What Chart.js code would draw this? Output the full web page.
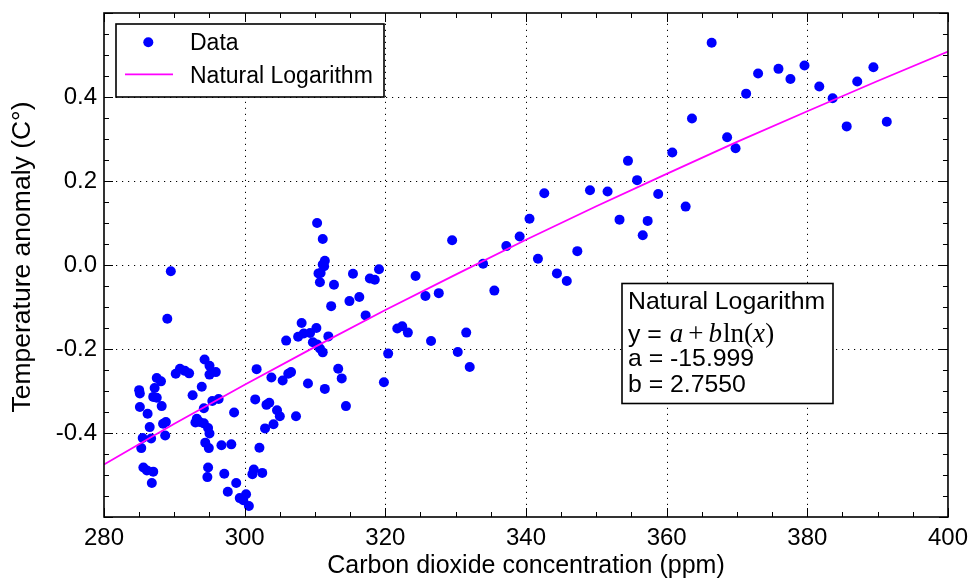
<!DOCTYPE html>
<html><head><meta charset="utf-8">
<style>html,body{margin:0;padding:0;background:#fff;}#wrap{width:975px;height:579px;}</style>
<script src="https://cdn.jsdelivr.net/npm/chart.js@4.4.0/dist/chart.umd.min.js"></script>
</head><body><div id="wrap"><canvas id="c" width="975" height="579"></canvas></div>
<script>
// CO2 concentration (ppm) of each data point
const co2 = [289.5,289.0,294.3,295.0,295.9,295.0,290.8,290.2,291.5,292.1,287.5,288.1,287.2,285.0,285.1,287.0,287.5,285.1,288.2,286.2,
293.9,292.6,295.4,296.3,294.2,298.5,288.8,288.4,293.2,293.6,293.0,294.2,294.8,295.0,294.4,294.9,286.5,285.5,286.7,288.7,
285.3,296.7,298.1,285.6,286.1,287.0,286.8,294.8,294.7,297.1,298.8,297.6,299.3,
310.3,311.1,311.4,311.1,311.3,310.5,310.8,310.7,312.7,315.4,317.8,318.5,319.1,316.3,314.9,312.3,317.2,308.1,310.2,307.6,
308.4,309.3,311.9,305.9,309.7,310.3,310.7,311.1,301.7,313.3,313.8,306.6,306.2,303.8,305.4,309.0,311.4,301.5,303.1,303.5,
304.6,305.0,307.3,314.4,304.1,302.9,302.1,301.3,301.1,302.5,300.2,299.8,300.6,
342.6,340.5,339.1,337.2,329.5,333.9,341.7,344.4,345.8,324.3,325.7,327.6,335.5,321.7,322.4,323.2,326.5,331.5,330.3,332.0,
320.4,319.8,
366.4,373.0,371.3,363.6,368.6,369.8,360.8,354.5,355.8,349.1,351.6,358.8,362.7,353.3,357.3,356.6,347.3,
375.9,377.6,379.6,381.7,383.6,387.1,389.4,385.6,391.3];
// Temperature anomaly (C) of each data point
const anomaly = [-0.015,-0.128,-0.225,-0.240,-0.255,-0.261,-0.247,-0.259,-0.252,-0.258,-0.269,-0.277,-0.293,-0.298,-0.306,-0.314,-0.316,-0.338,-0.336,-0.354,
-0.290,-0.310,-0.324,-0.319,-0.341,-0.351,-0.374,-0.378,-0.366,-0.374,-0.375,-0.377,-0.388,-0.401,-0.423,-0.436,-0.386,-0.412,-0.413,-0.406,
-0.436,-0.429,-0.427,-0.482,-0.489,-0.492,-0.519,-0.482,-0.505,-0.497,-0.519,-0.540,-0.555,
0.100,0.062,0.010,0.001,-0.003,-0.020,-0.019,-0.041,-0.047,-0.021,-0.032,-0.035,-0.010,-0.076,-0.086,-0.098,-0.120,-0.138,-0.150,-0.171,
-0.163,-0.162,-0.170,-0.180,-0.184,-0.189,-0.199,-0.208,-0.248,-0.247,-0.270,-0.255,-0.259,-0.268,-0.275,-0.282,-0.295,-0.320,-0.333,-0.328,
-0.346,-0.360,-0.360,-0.336,-0.379,-0.389,-0.435,-0.487,-0.498,-0.495,-0.546,-0.560,-0.574,
0.171,0.110,0.068,0.045,0.059,0.003,0.015,-0.020,-0.038,-0.026,-0.074,-0.067,-0.061,-0.151,-0.146,-0.161,-0.181,-0.161,-0.207,-0.243,
-0.211,-0.279,
0.529,0.456,0.408,0.349,0.304,0.278,0.268,0.248,0.202,0.178,0.175,0.169,0.139,0.108,0.105,0.071,0.033,
0.467,0.443,0.475,0.425,0.397,0.437,0.471,0.330,0.341];
// Fitted natural logarithm curve, sampled values
const fitX = [280,290,300,310,320,330,340,350,360,370,380,390,400];
const fitY = [-0.475,-0.378,-0.285,-0.195,-0.107,-0.023,0.060,0.140,0.217,0.293,0.366,0.438,0.508];
// Axis ticks
const xMajor = [280,300,320,340,360,380,400];
const yMajor = [-0.6,-0.4,-0.2,0.0,0.2,0.4,0.6];
const yLabelled = [-0.4,-0.2,0.0,0.2,0.4];
// Texts
const legendLabels = ['Data','Natural Logarithm'];
const xTitle = 'Carbon dioxide concentration (ppm)';
const yTitle = 'Temperature anomaly (C°)';
const boxTitle = 'Natural Logarithm';
const coefA = '-15.999';
const coefB = '2.7550';

const SANS = '"Liberation Sans", Arial, Helvetica, sans-serif';
const SERIF = '"Liberation Serif", "Times New Roman", serif';

const decor = {
  id: 'decor',
  beforeDatasetsDraw(chart) {
    const {ctx, chartArea: a, scales: {x, y}} = chart;
    ctx.save();
    ctx.strokeStyle = '#000';
    ctx.lineWidth = 1;
    ctx.setLineDash([1.2, 4.8]);
    xMajor.forEach(v => {
      if (v <= x.min || v >= x.max) return;
      const px = Math.round(x.getPixelForValue(v)) + 0.5;
      ctx.beginPath(); ctx.moveTo(px, a.bottom); ctx.lineTo(px, a.top); ctx.stroke();
    });
    yMajor.forEach(v => {
      if (v <= y.min + 1e-9 || v >= y.max - 1e-9) return;
      const py = Math.round(y.getPixelForValue(v)) + 0.5;
      ctx.beginPath(); ctx.moveTo(a.left, py); ctx.lineTo(a.right, py); ctx.stroke();
    });
    ctx.restore();
  },
  afterDatasetsDraw(chart) {
    const {ctx, chartArea: a, scales: {x, y}} = chart;
    ctx.save();
    ctx.strokeStyle = '#000';
    ctx.lineWidth = 1;
    const tick = (px, len, vert) => {
      ctx.beginPath();
      if (vert) {
        ctx.moveTo(px, a.bottom); ctx.lineTo(px, a.bottom - len);
        ctx.moveTo(px, a.top); ctx.lineTo(px, a.top + len);
      } else {
        ctx.moveTo(a.left, px); ctx.lineTo(a.left + len, px);
        ctx.moveTo(a.right, px); ctx.lineTo(a.right - len, px);
      }
      ctx.stroke();
    };
    for (let v = x.min; v <= x.max + 1e-9; v += 5) {
      const major = Math.abs(v % 20) < 1e-9;
      tick(Math.round(x.getPixelForValue(v)) + 0.5, major ? 9 : 5, true);
    }
    for (let i = 0; i <= 24; i++) {
      const v = -0.6 + i * 0.05;
      tick(Math.round(y.getPixelForValue(v)) + 0.5, i % 4 === 0 ? 9 : 5, false);
    }
    ctx.lineWidth = 1.6;
    ctx.strokeRect(a.left, a.top, a.right - a.left, a.bottom - a.top);

    // y axis title
    ctx.save();
    ctx.translate(23, 257);
    ctx.rotate(-Math.PI / 2);
    ctx.fillStyle = '#000';
    ctx.font = '26.5px ' + SANS;
    ctx.textAlign = 'center';
    ctx.textBaseline = 'middle';
    ctx.fillText(yTitle, 0, 0);
    ctx.restore();

    // legend box
    ctx.fillStyle = '#fff';
    ctx.fillRect(116, 24, 268, 73);
    ctx.lineWidth = 1.6;
    ctx.strokeRect(116, 24, 268, 73);
    ctx.fillStyle = '#0000ff';
    ctx.beginPath(); ctx.arc(148.3, 42.3, 5, 0, Math.PI * 2); ctx.fill();
    ctx.strokeStyle = '#ff00ff'; ctx.lineWidth = 1.8;
    ctx.beginPath(); ctx.moveTo(125, 74.3); ctx.lineTo(173, 74.3); ctx.stroke();
    ctx.fillStyle = '#000';
    ctx.font = '23px ' + SANS;
    ctx.textBaseline = 'alphabetic';
    ctx.textAlign = 'left';
    ctx.fillText(legendLabels[0], 190, 50);
    ctx.fillText(legendLabels[1], 190, 82.5);

    // annotation box
    ctx.fillStyle = '#fff';
    ctx.fillRect(622, 283.5, 211, 120);
    ctx.strokeStyle = '#000'; ctx.lineWidth = 1.6;
    ctx.strokeRect(622, 283.5, 211, 120);
    ctx.fillStyle = '#000';
    ctx.font = '24.8px ' + SANS;
    ctx.fillText(boxTitle, 628, 308.5);
    let cx = 628;
    const bl = 341.5;
    ctx.fillText('y = ', cx, bl); cx += ctx.measureText('y = ').width + 1;
    const piece = (t, italic, gapAfter) => {
      ctx.font = (italic ? 'italic ' : '') + '27px ' + SERIF;
      ctx.fillText(t, cx, bl);
      cx += ctx.measureText(t).width + (gapAfter || 0);
    };
    piece('a', true, 5);
    piece('+', false, 5);
    piece('b', true, 1);
    piece('ln', false, 0);
    piece('(', false, 0);
    piece('x', true, 0.5);
    piece(')', false, 0);
    ctx.font = '24.8px ' + SANS;
    ctx.fillText('a = ' + coefA, 628, 366);
    ctx.fillText('b = ' + coefB, 628, 392);
    ctx.restore();
  }
};

new Chart(document.getElementById('c'), {
  type: 'scatter',
  data: {
    datasets: [
      {
        label: legendLabels[1],
        type: 'line',
        data: fitX.map((v, i) => ({x: v, y: fitY[i]})),
        borderColor: '#ff00ff',
        borderWidth: 1.8,
        pointRadius: 0,
        fill: false,
        tension: 0,
        order: 0
      },
      {
        label: legendLabels[0],
        data: co2.map((v, i) => ({x: v, y: anomaly[i]})),
        backgroundColor: '#0000ff',
        borderWidth: 0,
        pointRadius: 5,
        order: 1
      }
    ]
  },
  options: {
    responsive: false,
    animation: false,
    devicePixelRatio: 1,
    layout: {padding: {top: 13, right: 26, left: 0, bottom: 0}},
    plugins: {legend: {display: false}, tooltip: {enabled: false}},
    scales: {
      x: {
        type: 'linear', min: 280, max: 400,
        grid: {display: false, drawTicks: false},
        border: {display: false},
        ticks: {stepSize: 20, color: '#000', padding: 7, font: {family: SANS, size: 24}, maxRotation: 0},
        title: {display: true, text: xTitle, color: '#000', font: {family: SANS, size: 25, lineHeight: 1.0}, padding: {top: 0, bottom: 0}},
        afterFit(s) { s.height = 62; }
      },
      y: {
        type: 'linear', min: -0.6, max: 0.6,
        grid: {display: false, drawTicks: false},
        border: {display: false},
        ticks: {
          stepSize: 0.2, color: '#000', padding: 7, font: {family: SANS, size: 24, lineHeight: 0.5},
          callback(v) {
            if (Math.abs(v) < 1e-9) return '0.0';
            return yLabelled.some(t => Math.abs(t - v) < 1e-6) ? v.toFixed(1) : '';
          }
        },
        title: {display: false},
        afterFit(s) { s.width = 104; }
      }
    }
  },
  plugins: [decor]
});
</script></body></html>
